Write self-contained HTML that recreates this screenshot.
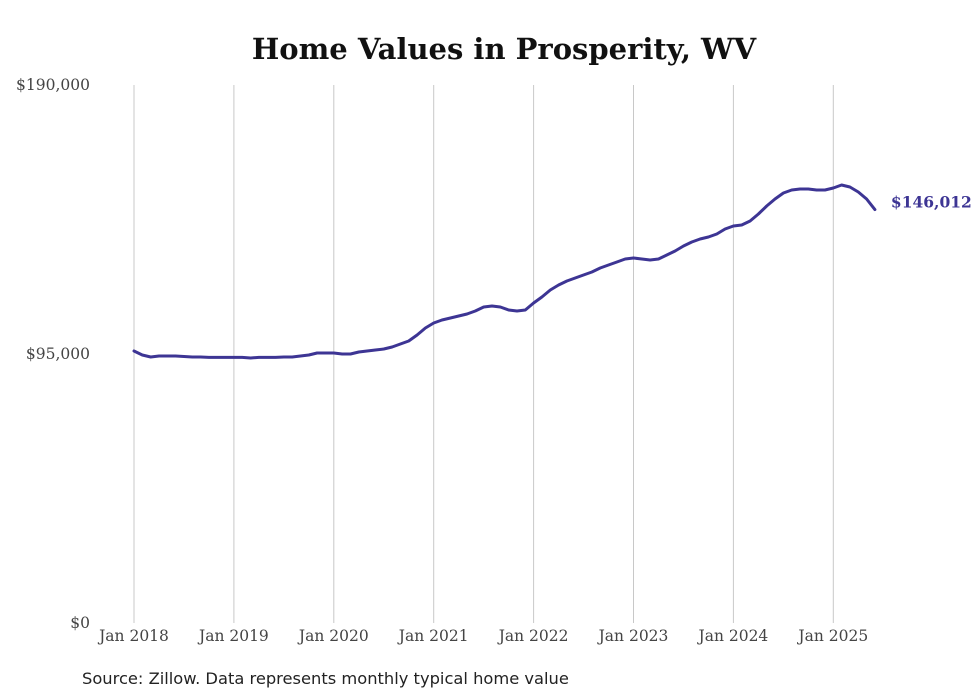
<!DOCTYPE html>
<html><head><meta charset="utf-8"><style>
body{margin:0;background:#fff;width:980px;height:699px;overflow:hidden}
svg{display:block}
</style></head><body>
<svg width="980" height="699" id="chart">
<text x="504" y="59" text-anchor="middle" font-family="'DejaVu Serif',serif" font-weight="bold" font-size="29" fill="#111">Home Values in Prosperity, WV</text>
<text x="82" y="684" font-family="'DejaVu Sans',sans-serif" font-size="16.3" fill="#222">Source: Zillow. Data represents monthly typical home value</text>
<g id="grid"></g><g id="ticks"></g><g id="series"></g>
</svg>
<script>
const xLabels=["Jan 2018","Jan 2019","Jan 2020","Jan 2021","Jan 2022","Jan 2023","Jan 2024","Jan 2025"];
const yTicks=[0,95000,190000];
const yTickLabels=["$0","$95,000","$190,000"];
const values=[96060,94647,93941,94294,94294,94294,94100,93941,93941,93800,93800,93800,
93800,93800,93587,93800,93800,93800,93941,93941,94294,94647,95353,95353,
95353,95000,95000,95706,96060,96413,96766,97472,98532,99591,101710,104182,
105948,107007,107714,108420,109126,110186,111599,111952,111599,110539,110186,110539,
113011,115130,117602,119368,120781,121840,122900,123959,125372,126431,127491,128550,
128903,128550,128197,128550,129963,131376,133141,134554,135613,136320,137379,139145,
140205,140558,141970,144442,147268,149740,151859,152918,153271,153271,152918,152918,
153625,154684,153978,152212,149740,146012];
const lastLabel="$146,012";
const NS="http://www.w3.org/2000/svg";
const x0=134,xYear=99.9,yBase=623,yTop=85,yMax=190000;
const xs=i=>x0+i*xYear/12;
const ys=v=>yBase-(v/yMax)*(yBase-yTop);
function mk(t,a,p){const e=document.createElementNS(NS,t);for(const k in a)e.setAttribute(k,a[k]);p.appendChild(e);return e;}
const grid=document.getElementById('grid'),ticks=document.getElementById('ticks'),series=document.getElementById('series');
xLabels.forEach((l,i)=>{
 const x=xs(i*12);
 const g=mk('line',{x1:x,x2:x,y1:yTop,y2:yBase,stroke:'#c8c8c8','stroke-width':1},grid);
 
 
 const t=mk('text',{x:x,y:641,'text-anchor':'middle','font-family':"'DejaVu Serif',serif",'font-size':15.5,fill:'#444'},ticks);
 t.textContent=l;
 
 
});
yTicks.forEach((v,i)=>{
 const t=mk('text',{x:90,y:ys(v)+5,'text-anchor':'end','font-family':"'DejaVu Serif',serif",'font-size':15.5,fill:'#444'},ticks);
 t.textContent=yTickLabels[i];
 
 
});
const d=values.map((v,i)=>(i?'L':'M')+xs(i).toFixed(1)+','+ys(v).toFixed(1)).join(' ');
const p=mk('path',{d:d,fill:'none',stroke:'#3d3594','stroke-width':3,'stroke-linejoin':'round','stroke-linecap':'round'},series);


const n=values.length-1;
const lt=mk('text',{x:xs(n)+16,y:ys(values[n])-2,'font-family':"'DejaVu Serif',serif",'font-size':15.5,'font-weight':'bold',fill:'#3d3594'},series);
lt.textContent=lastLabel;


</script>
</body></html>
